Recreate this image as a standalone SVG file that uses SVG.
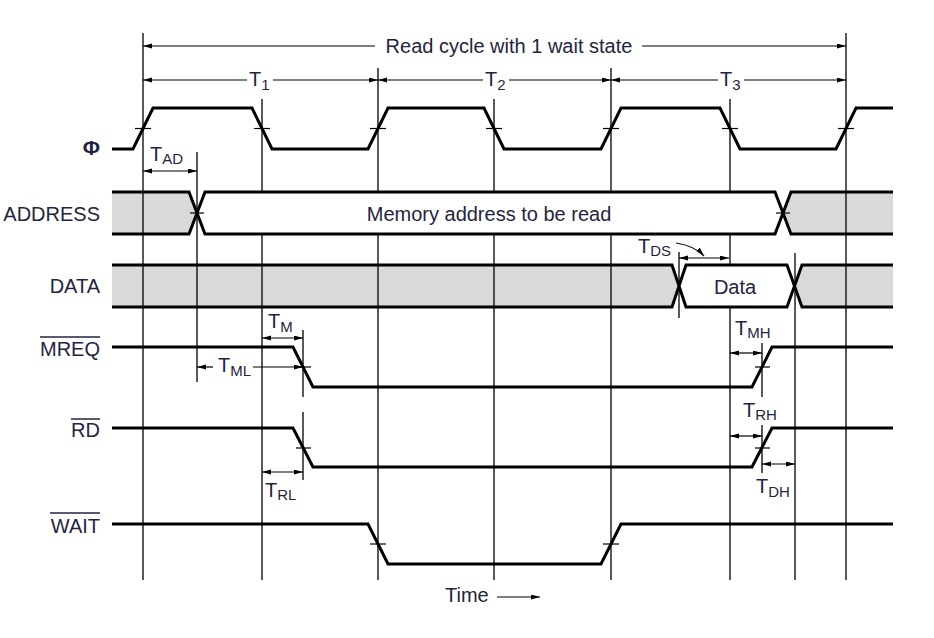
<svg xmlns="http://www.w3.org/2000/svg" width="934" height="638" viewBox="0 0 934 638">
<style>
text{font-family:"Liberation Sans",Arial,sans-serif;fill:#1f2540;font-size:20px}
.sub{font-size:15px}
.sig{fill:none;stroke:#000;stroke-width:3;stroke-linejoin:miter}
.thin{fill:none;stroke:#000;stroke-width:1.3}
.tick{stroke:#000;stroke-width:1.2}
.grey{fill:#d9d9d9;stroke:none}
.white{fill:#fff;stroke:none}
.arr{fill:none;stroke:#000;stroke-width:1.2;marker-end:url(#ah)}
.darr{fill:none;stroke:#000;stroke-width:1.2;marker-start:url(#ah);marker-end:url(#ah)}
.ov{stroke:#1f2540;stroke-width:1.5}
</style>
<defs>
<marker id="ah" markerUnits="userSpaceOnUse" markerWidth="10" markerHeight="6" refX="9" refY="2.5" orient="auto-start-reverse">
<path d="M0,0 L9,2.5 L0,5 z" fill="#000"/>
</marker>
</defs>
<rect width="934" height="638" fill="#fff"/>

<g id="bus-fills">
<polygon class="grey" points="112,192 189,192 197,213 189,234 112,234"/>
<polygon class="grey" points="783,213 791,192 893,192 893,234 791,234"/>
<polygon class="grey" points="112,265 672,265 679,286 672,307 112,307"/>
<polygon class="grey" points="794.5,286 802,265 893,265 893,307 802,307"/>
</g>

<g id="gridlines">
<line class="thin" x1="143" y1="33" x2="143" y2="580"/>
<line class="thin" x1="262" y1="99" x2="262" y2="580"/>
<line class="thin" x1="378" y1="68" x2="378" y2="580"/>
<line class="thin" x1="494" y1="99" x2="494" y2="580"/>
<line class="thin" x1="611" y1="68" x2="611" y2="580"/>
<line class="thin" x1="730" y1="99" x2="730" y2="580"/>
<line class="thin" x1="846" y1="33" x2="846" y2="580"/>
<line class="thin" x1="197" y1="152" x2="197" y2="382"/>
<line class="thin" x1="679" y1="252" x2="679" y2="318"/>
<line class="thin" x1="795" y1="253" x2="795" y2="580"/>
<line class="thin" x1="303" y1="330" x2="303" y2="397"/>
<line class="thin" x1="303" y1="412" x2="303" y2="480"/>
<line class="thin" x1="762" y1="343" x2="762" y2="397"/>
<line class="thin" x1="762" y1="425" x2="762" y2="473"/>
</g>

<g id="phi">
<text x="100" y="155" text-anchor="end" font-weight="bold" style="font-size:21px">Φ</text>
<path class="sig" d="M112,149 H133 L153,108 H252 L272,149 H368 L388,108 H484 L504,149 H601 L621,108 H720 L740,149 H836 L856,108 H893"/>
<g class="tick">
<line x1="135" y1="128.5" x2="151" y2="128.5"/>
<line x1="254" y1="128.5" x2="270" y2="128.5"/>
<line x1="370" y1="128.5" x2="386" y2="128.5"/>
<line x1="486" y1="128.5" x2="502" y2="128.5"/>
<line x1="603" y1="128.5" x2="619" y2="128.5"/>
<line x1="722" y1="128.5" x2="738" y2="128.5"/>
<line x1="838" y1="128.5" x2="854" y2="128.5"/>
</g>
</g>

<g id="address">
<text x="100" y="221" text-anchor="end">ADDRESS</text>
<polygon class="white" points="197,213 205,192 775,192 783,213 775,234 205,234"/>
<path class="sig" d="M112,192 H189 L205,234 H775 L791,192 H893 M112,234 H189 L205,192 H775 L791,234 H893"/>
<line class="tick" x1="190" y1="213" x2="204" y2="213"/>
<line class="tick" x1="776" y1="213" x2="790" y2="213"/>
<text x="489" y="221" text-anchor="middle">Memory address to be read</text>
</g>

<g id="data">
<text x="100" y="293" text-anchor="end">DATA</text>
<polygon class="white" points="679,286 686,265 787,265 794.5,286 787,307 686,307"/>
<path class="sig" d="M112,265 H672 L686,307 H787 L802,265 H893 M112,307 H672 L686,265 H787 L802,307 H893"/>
<text x="735" y="294" text-anchor="middle">Data</text>
</g>

<g id="mreq">
<text x="100" y="356" text-anchor="end">MREQ</text>
<line class="ov" x1="40" y1="337" x2="100" y2="337"/>
<path class="sig" d="M112,347 H293 L313,387 H752 L772,347 H893"/>
<line class="tick" x1="296" y1="367" x2="311" y2="367"/>
<line class="tick" x1="755" y1="367" x2="770" y2="367"/>
</g>

<g id="rd">
<text x="100" y="437" text-anchor="end">RD</text>
<line class="ov" x1="71" y1="419" x2="100" y2="419"/>
<path class="sig" d="M112,428 H293 L313,467 H752 L772,428 H893"/>
<line class="tick" x1="296" y1="448" x2="311" y2="448"/>
<line class="tick" x1="755" y1="448" x2="770" y2="448"/>
</g>

<g id="wait">
<text x="100" y="533" text-anchor="end">WAIT</text>
<line class="ov" x1="50" y1="513" x2="100" y2="513"/>
<path class="sig" d="M112,524 H368 L388,564 H601 L621,524 H893"/>
<line class="tick" x1="370" y1="544" x2="386" y2="544"/>
<line class="tick" x1="603" y1="544" x2="619" y2="544"/>
</g>

<g id="connectors">
<line class="arr" x1="375" y1="46" x2="143" y2="46"/>
<line class="arr" x1="642" y1="46" x2="846" y2="46"/>
<line class="arr" x1="247" y1="80" x2="143" y2="80"/>
<line class="arr" x1="273" y1="80" x2="378" y2="80"/>
<line class="arr" x1="483" y1="80" x2="378" y2="80"/>
<line class="arr" x1="509" y1="80" x2="611" y2="80"/>
<line class="arr" x1="718" y1="80" x2="611" y2="80"/>
<line class="arr" x1="744" y1="80" x2="846" y2="80"/>
<line class="darr" x1="143" y1="171" x2="197" y2="171"/>
<line class="darr" x1="679" y1="258" x2="729" y2="258"/>
<path class="arr" d="M676,243 Q695,246 704,256"/>
<line class="darr" x1="262" y1="338" x2="303" y2="338"/>
<line class="arr" x1="213" y1="367" x2="197" y2="367"/>
<line class="arr" x1="253" y1="367" x2="303" y2="367"/>
<line class="darr" x1="262" y1="472" x2="303" y2="472"/>
<line class="darr" x1="730" y1="353" x2="762" y2="353"/>
<line class="darr" x1="730" y1="436" x2="762" y2="436"/>
<line class="darr" x1="762" y1="464" x2="795" y2="464"/>
<line class="arr" x1="497" y1="597" x2="540" y2="597"/>
</g>

<g id="labels">
<text x="509" y="53" text-anchor="middle">Read cycle with 1 wait state</text>
<text x="249" y="86">T<tspan class="sub" dy="4">1</tspan></text>
<text x="485" y="86">T<tspan class="sub" dy="4">2</tspan></text>
<text x="720" y="86">T<tspan class="sub" dy="4">3</tspan></text>
<text x="150" y="161">T<tspan class="sub" dy="3">AD</tspan></text>
<text x="638" y="253">T<tspan class="sub" dy="3">DS</tspan></text>
<text x="268" y="328">T<tspan class="sub" dy="4">M</tspan></text>
<text x="218" y="372">T<tspan class="sub" dy="4">ML</tspan></text>
<text x="735" y="335">T<tspan class="sub" dy="3">MH</tspan></text>
<text x="743" y="417">T<tspan class="sub" dy="3">RH</tspan></text>
<text x="265" y="497">T<tspan class="sub" dy="3">RL</tspan></text>
<text x="756" y="493">T<tspan class="sub" dy="4">DH</tspan></text>
<text x="445" y="602">Time</text>
</g>
</svg>
